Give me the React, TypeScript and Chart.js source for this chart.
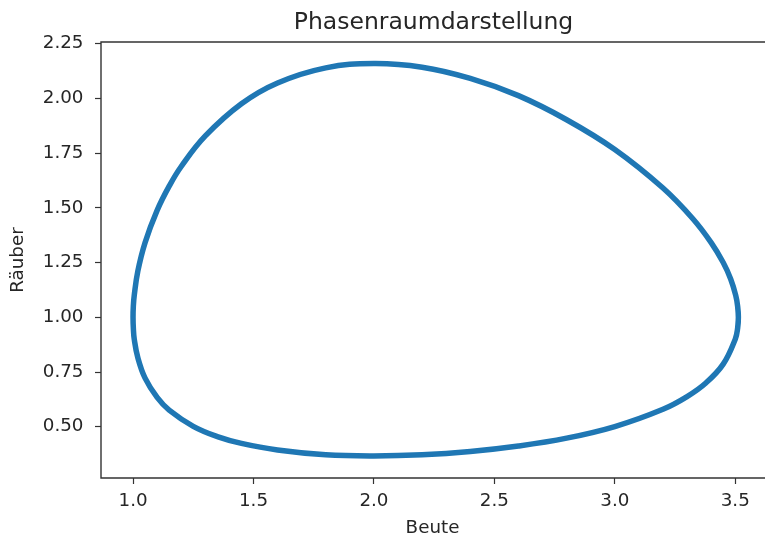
import React, { useEffect, useRef } from "react";
import { Chart, registerables } from "chart.js";

Chart.register(...registerables);

// Phase-space orbit of the predator–prey system: prey (Beute) vs. predators (Räuber).
// The loop starts and ends a little past the right turning point so it closes smoothly.
const beute = [
  3.51, 3.513, 3.51, 3.502, 3.481, 3.45, 3.4, 3.324, 3.2, 3.0,
  2.8, 2.6, 2.4, 2.2, 2.0, 1.8, 1.6, 1.45, 1.3, 1.2,
  1.15, 1.1, 1.05, 1.02, 1.005, 1.0012, 1.0, 1.0013, 1.005, 1.02,
  1.05, 1.1, 1.15, 1.25, 1.35, 1.45, 1.6, 1.8, 2.0, 2.2,
  2.4, 2.6, 2.8, 3.0, 3.2, 3.3, 3.378, 3.45, 3.5, 3.51,
  3.513, 3.51,
];
const raeuber = [
  0.95, 1.0, 1.05, 1.1, 1.175, 1.25, 1.341, 1.45, 1.59, 1.766,
  1.902, 2.012, 2.091, 2.142, 2.159, 2.139, 2.07, 1.975, 1.828, 1.6885,
  1.5986, 1.488, 1.341, 1.211, 1.1, 1.05, 1.0, 0.95, 0.9, 0.815,
  0.722, 0.634, 0.576, 0.502, 0.455, 0.424, 0.394, 0.372, 0.367, 0.372,
  0.387, 0.412, 0.448, 0.501, 0.58, 0.638, 0.7, 0.786, 0.9, 0.95,
  1.0, 1.05,
];

const xTicks = [1.0, 1.5, 2.0, 2.5, 3.0, 3.5];
const yTicks = [0.5, 0.75, 1.0, 1.25, 1.5, 1.75, 2.0, 2.25];

const xRange = [0.867, 3.636];
const yRange = [0.266, 2.257];

const titleText = "Phasenraumdarstellung";
const xLabel = "Beute";
const yLabel = "Räuber";

const FONT = '"DejaVu Sans", sans-serif';
const TEXT = "#262626";
const AXIS = "#333333";

const framePlugin = {
  id: "frameAndLabels",
  afterDraw(chart: any) {
    const { ctx, chartArea: a } = chart;
    ctx.save();
    ctx.strokeStyle = AXIS;
    ctx.lineWidth = 1.4;
    // left, bottom and top spines (the right one lies past the visible page)
    ctx.beginPath();
    ctx.moveTo(a.right, a.top);
    ctx.lineTo(a.left, a.top);
    ctx.lineTo(a.left, a.bottom);
    ctx.lineTo(a.right, a.bottom);
    ctx.stroke();

    const cx = (a.left + a.right) / 2;
    ctx.fillStyle = TEXT;
    ctx.textAlign = "center";
    ctx.textBaseline = "alphabetic";
    ctx.font = `23.5px ${FONT}`;
    ctx.fillText(titleText, cx - 1, 29);

    ctx.font = `18.3px ${FONT}`;
    ctx.fillText(xLabel, cx - 2, 533);

    ctx.translate(23, (a.top + a.bottom) / 2);
    ctx.rotate(-Math.PI / 2);
    ctx.fillText(yLabel, 0, 0);
    ctx.restore();
  },
};

export default function App() {
  const canvasRef = useRef<HTMLCanvasElement | null>(null);

  useEffect(() => {
    if (!canvasRef.current) return;
    const points = beute.map((x, i) => ({ x, y: raeuber[i] }));
    const tickFont = { family: FONT, size: 18.3 };

    const chart = new Chart(canvasRef.current, {
      type: "scatter",
      data: {
        datasets: [
          {
            data: points,
            showLine: true,
            borderColor: "#1f77b4",
            backgroundColor: "#1f77b4",
            borderWidth: 5.5,
            pointRadius: 0,
            pointHoverRadius: 0,
            tension: 0.4,
            borderJoinStyle: "round",
            borderCapStyle: "round",
          },
        ],
      },
      options: {
        animation: false,
        responsive: false,
        devicePixelRatio: 1,
        layout: { padding: { top: 42, right: 12, left: 0, bottom: 0 } },
        plugins: {
          legend: { display: false },
          title: { display: false },
          tooltip: { enabled: false },
        },
        scales: {
          x: {
            type: "linear",
            min: xRange[0],
            max: xRange[1],
            afterBuildTicks: (s: any) => {
              s.ticks = xTicks.map((v) => ({ value: v }));
            },
            afterFit: (s: any) => {
              s.height = 63;
            },
            ticks: {
              callback: (v: any) => Number(v).toFixed(1),
              font: tickFont,
              color: TEXT,
              padding: 6,
              maxRotation: 0,
              autoSkip: false,
            },
            grid: {
              display: true,
              drawOnChartArea: false,
              drawTicks: true,
              tickLength: 6,
              tickColor: AXIS,
              tickWidth: 1.2,
            },
            border: { display: false },
          },
          y: {
            type: "linear",
            min: yRange[0],
            max: yRange[1],
            afterBuildTicks: (s: any) => {
              s.ticks = yTicks.map((v) => ({ value: v }));
            },
            afterFit: (s: any) => {
              s.width = 101;
            },
            ticks: {
              callback: (v: any) => Number(v).toFixed(2),
              font: tickFont,
              color: TEXT,
              padding: 11.5,
              autoSkip: false,
            },
            grid: {
              display: true,
              drawOnChartArea: false,
              drawTicks: true,
              tickLength: 6,
              tickColor: AXIS,
              tickWidth: 1.2,
            },
            border: { display: false },
          },
        },
      },
      plugins: [framePlugin],
    });

    return () => chart.destroy();
  }, []);

  return (
    <div
      style={{
        position: "fixed",
        left: 0,
        top: 0,
        width: 765,
        height: 541,
        overflow: "hidden",
        background: "#ffffff",
      }}
    >
      <canvas
        ref={canvasRef}
        width={780}
        height={541}
        style={{ display: "block", width: 780, height: 541 }}
      />
    </div>
  );
}
